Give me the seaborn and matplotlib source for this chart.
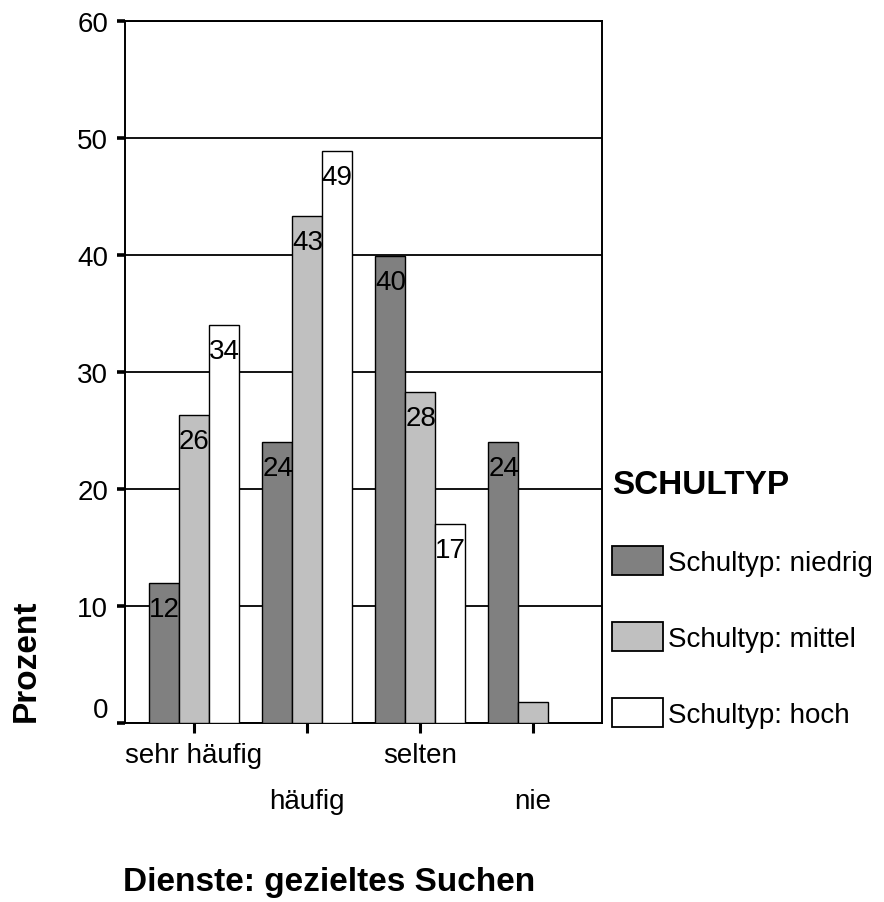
import numpy as np
import pandas as pd
import matplotlib
matplotlib.use("Agg")
import matplotlib.pyplot as plt
import seaborn as sns

# ─── data ─────────────────────────────────────────────────────────────────────
categories = ["sehr häufig", "häufig", "selten", "nie"]
groups = ["Schultyp: niedrig", "Schultyp: mittel", "Schultyp: hoch"]
niedrig = [12.0, 24.0, 39.9, 24.0]
mittel = [26.3, 43.3, 28.3, 1.8]
hoch = [34.0, 48.9, 17.0, 0.0]
y_ticks = [0, 10, 20, 30, 40, 50, 60]

COLORS = ["#808080", "#c0c0c0", "#ffffff"]

df = pd.DataFrame({
    "Kategorie": categories * 3,
    "Schultyp": [g for g in groups for _ in categories],
    "Prozent": niedrig + mittel + hoch,
})

sns.set_style("white")
plt.rcParams["font.family"] = ["Liberation Sans", "DejaVu Sans"]
plt.rcParams.update({
    "text.color": "black", "axes.labelcolor": "black",
    "xtick.color": "black", "ytick.color": "black",
})

fig = plt.figure(figsize=(8.84, 9.03), dpi=100)
ax = fig.add_axes([125 / 884, 1 - 724 / 903, 477 / 884, 702 / 903])

sns.barplot(
    data=df, x="Kategorie", y="Prozent", hue="Schultyp",
    order=categories, hue_order=groups, palette=COLORS,
    width=0.79, gap=0, edgecolor="black", linewidth=1.0,
    saturation=1, ax=ax, zorder=3,
)

ax.set_ylim(0, 60)
ax.set_xlim(-0.61, 3.61)
ax.set_yticks(y_ticks)
ax.yaxis.grid(True, color="black", linewidth=1.3, zorder=0)
ax.set_axisbelow(True)
for s in ax.spines.values():
    s.set_color("black")
    s.set_linewidth(1.4)
    s.set_visible(True)

ax.tick_params(axis="y", left=True, direction="out", length=5.5, width=2.6,
               pad=6.5, labelsize=20)
ax.tick_params(axis="x", bottom=True, direction="out", length=7, width=2.2,
               pad=7, labelsize=20)

# value labels inside the bars, top-left
for cont in ax.containers:
    for bar in cont:
        h = bar.get_height()
        if h < 5:
            continue
        ax.annotate(f"{h:.0f}", xy=(bar.get_x(), h), xytext=(0, -26),
                    textcoords="offset pixels", ha="left", va="center",
                    fontsize=20, zorder=5)

# staggered category labels
ax.set_xticks(range(len(categories)))
ax.set_xticklabels(categories)
for i, lbl in enumerate(ax.get_xticklabels()):
    if i % 2:
        lbl.set_y(-0.065)
# the zero label sits slightly above its tick in the original
ax.get_yticklabels()[0].set_va("bottom")

ax.set_ylabel("Prozent", fontsize=24, fontweight="bold", loc="bottom")
ax.yaxis.set_label_coords(-0.174, 0.003)
ax.set_xlabel("Dienste: gezieltes Suchen", fontsize=24, fontweight="bold")
ax.xaxis.set_label_coords(0.428, -0.203)

leg = ax.legend(
    title="SCHULTYP", loc="upper left", bbox_to_anchor=(612 / 884, 1 - 470 / 903),
    bbox_transform=fig.transFigure, frameon=False, fontsize=20,
    title_fontproperties={"size": 24, "weight": "bold"}, alignment="left",
    handlelength=1.83, handleheight=1.22, handletextpad=0.2,
    labelspacing=1.66, borderpad=0, borderaxespad=0,
)
for p in leg.get_patches():
    p.set_linewidth(1.3)

fig.savefig("out.png", dpi=100)
